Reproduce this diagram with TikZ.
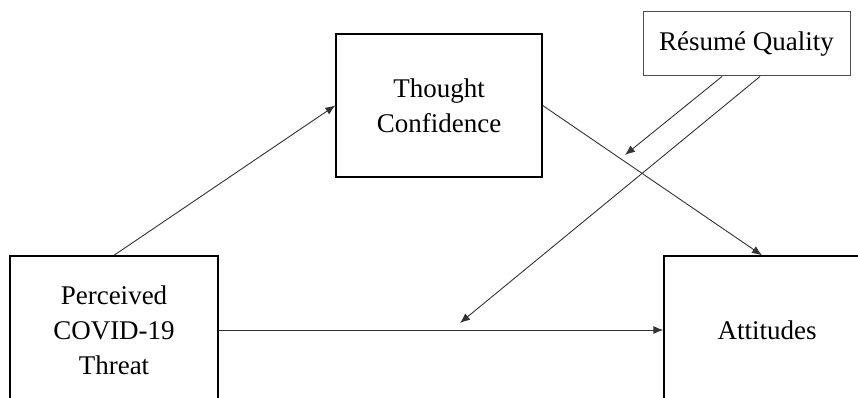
\documentclass[tikz,border=0pt]{standalone}
\usepackage{fontspec}
\setmainfont{Liberation Serif}
\usepackage{tikz}
\usetikzlibrary{arrows.meta}

\tikzset{
  varbox/.style={draw,line width=1.4pt,inner sep=0pt,align=center,
    font=\fontsize{27}{35}\selectfont},
  path/.style={->,line width=0.9pt,draw=black!80},
}

\begin{document}
\begin{tikzpicture}[x=1pt,y=1pt,>={Latex[length=10pt,width=8pt]}]
    \clip (0,0) rectangle (858,398);
    \node[varbox,minimum width=208,minimum height=148] (threat) at (114,68)
      {Perceived\\COVID-19\\Threat};
    \node[varbox,minimum width=206,minimum height=143] (conf) at (439,292.5)
      {Thought\\Confidence};
    \node[varbox,minimum width=206,minimum height=148] (att) at (767,68)
      {Attitudes};
    \node[varbox,line width=1pt,draw=black!70,minimum width=207,minimum height=64]
      (resume) at (746.5,354) {Résumé Quality};
    \coordinate (modA) at (625,243);
    \coordinate (modB) at (460,75);
    \draw[path] (threat.north) -- (conf.west);
    \draw[path] (conf.east) -- ([xshift=-5pt]att.north);
    \draw[path] (threat.east) -- (att.west);
    \draw[path] ([xshift=-24.5pt]resume.south) -- (modA);
    \draw[path] ([xshift=13.5pt]resume.south) -- (modB);
  \end{tikzpicture}
\end{document}
